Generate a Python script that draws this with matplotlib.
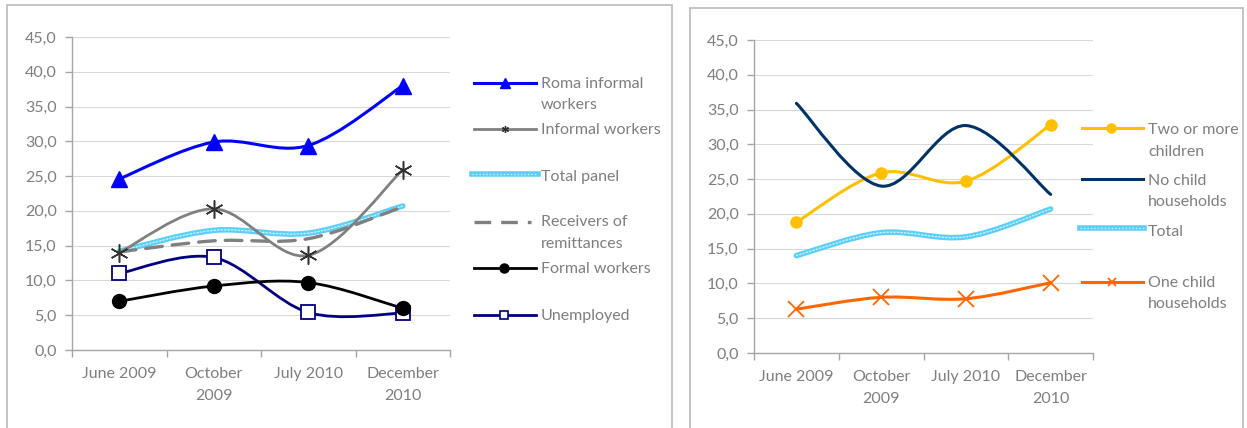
import matplotlib
matplotlib.use("Agg")
import matplotlib.pyplot as plt
from matplotlib.path import Path
from matplotlib.patches import PathPatch, Rectangle
from matplotlib.lines import Line2D
from matplotlib.ticker import FuncFormatter
import numpy as np

plt.rcParams['font.family'] = ['Lato', 'DejaVu Sans']

# ---------------- data ----------------
categories = ["June 2009", "October\n2009", "July 2010", "December\n2010"]

roma_informal = [24.6, 29.9, 29.4, 38.0]
informal_workers = [14.0, 20.3, 13.6, 25.9]
total_panel = [14.2, 17.2, 16.8, 20.7]
receivers = [14.1, 15.7, 16.0, 20.6]
formal_workers = [7.0, 9.2, 9.7, 6.0]
unemployed = [11.0, 13.3, 5.4, 5.3]

two_or_more = [18.8, 25.9, 24.7, 32.8]
no_child = [35.9, 24.0, 32.7, 22.8]
total_right = [14.0, 17.3, 16.7, 20.7]
one_child = [6.3, 8.0, 7.8, 10.1]

yticks = [0, 5, 10, 15, 20, 25, 30, 35, 40, 45]

TEXT = '#7F7F7F'
AXC = '#A6A6A6'
GRID = '#D9D9D9'
W, H = 1247, 428
FS = 11.5

fig = plt.figure(figsize=(W / 100, H / 100), dpi=100)


def fx(x):
    return x / W


def fy(y):
    return 1 - y / H


def smooth_path(ax, ys, **kw):
    """Excel-style smoothed line through the points (Bezier, Catmull-Rom)."""
    xs = list(range(len(ys)))
    pts = np.column_stack([xs, ys]).astype(float)
    n = len(pts)
    verts = [pts[0]]
    codes = [Path.MOVETO]
    for i in range(n - 1):
        p0 = pts[i - 1] if i > 0 else pts[i]
        p1 = pts[i]
        p2 = pts[i + 1]
        p3 = pts[i + 2] if i + 2 < n else pts[i + 1]
        c1 = p1 + (p2 - p0) / 6.0
        c2 = p2 - (p3 - p1) / 6.0
        verts += [c1, c2, p2]
        codes += [Path.CURVE4] * 3
    patch = PathPatch(Path(verts, codes), fill=False, transform=ax.transData,
                      capstyle='round', joinstyle='round', **kw)
    ax.add_patch(patch)
    return patch


def style_axes(ax):
    ax.set_xlim(-0.5, 3.5)
    ax.set_ylim(0, 45)
    ax.set_yticks(yticks)
    ax.yaxis.set_major_formatter(FuncFormatter(lambda v, p: f"{v:.1f}".replace('.', ',')))
    ax.set_xticks([-0.5, 0.5, 1.5, 2.5, 3.5])
    ax.set_xticklabels([])
    ax.set_xticks(range(4), minor=True)
    ax.set_xticklabels(categories, minor=True, fontsize=FS, color=TEXT,
                       linespacing=1.74)
    ax.tick_params(axis='x', which='major', length=5, color=AXC, width=1)
    ax.tick_params(axis='x', which='minor', length=0, pad=12)
    ax.tick_params(axis='y', length=5, color=AXC, width=1, labelsize=FS,
                   labelcolor=TEXT, pad=6)
    for s in ['top', 'right']:
        ax.spines[s].set_visible(False)
    for s in ['left', 'bottom']:
        ax.spines[s].set_color(AXC)
        ax.spines[s].set_linewidth(1)
    ax.grid(axis='y', color=GRID, linewidth=0.8)
    ax.set_axisbelow(True)


def total_style(ax, ys):
    smooth_path(ax, ys, edgecolor='#5CCFF7', linewidth=4.0, zorder=3)
    smooth_path(ax, ys, edgecolor='#C8F0FF', linewidth=1.0, linestyle=(0, (1, 1.5)), zorder=3.1)


# panel borders
fig.add_artist(Rectangle((fx(7), fy(440)), fx(672 - 7), fy(5) - fy(440),
                         transform=fig.transFigure, fill=False,
                         edgecolor='#BFBFBF', linewidth=1.3))
fig.add_artist(Rectangle((fx(690), fy(440)), fx(1243 - 690), fy(8) - fy(440),
                         transform=fig.transFigure, fill=False,
                         edgecolor='#BFBFBF', linewidth=1.3))

# ---------------- left chart ----------------
ax1 = fig.add_axes([fx(72), fy(350), fx(450 - 72), fy(37) - fy(350)])
style_axes(ax1)
x = range(4)

total_style(ax1, total_panel)
smooth_path(ax1, receivers, edgecolor='#808080', linewidth=2.4,
            linestyle=(0, (5, 3)), zorder=3.2)
smooth_path(ax1, informal_workers, edgecolor='#808080', linewidth=2.0, zorder=3.3)
ax1.plot(x, informal_workers, linestyle='none', marker=(6, 2, 0), markersize=13,
         markeredgecolor='#333333', markeredgewidth=1.1, zorder=4)
smooth_path(ax1, roma_informal, edgecolor='#0000FF', linewidth=2.2, zorder=3.4)
ax1.plot(x, roma_informal, linestyle='none', marker='^', markersize=12,
         color='#0000FF', zorder=4)
smooth_path(ax1, unemployed, edgecolor='#000080', linewidth=2.0, zorder=3.5)
ax1.plot(x, unemployed, linestyle='none', marker='s', markersize=10,
         markerfacecolor='white', markeredgecolor='#000080', markeredgewidth=1.3, zorder=4)
smooth_path(ax1, formal_workers, edgecolor='#000000', linewidth=2.0, zorder=3.6)
ax1.plot(x, formal_workers, linestyle='none', marker='o', markersize=10,
         color='#000000', zorder=4.1)

# ---------------- right chart ----------------
ax2 = fig.add_axes([fx(754), fy(353), fx(1093 - 754), fy(40) - fy(353)])
style_axes(ax2)
total_style(ax2, total_right)
smooth_path(ax2, one_child, edgecolor='#FF6600', linewidth=2.2, zorder=3.3)
ax2.plot(x, one_child, linestyle='none', marker='x', markersize=11,
         markeredgecolor='#FF6600', markeredgewidth=1.3, zorder=4)
smooth_path(ax2, two_or_more, edgecolor='#FFC000', linewidth=2.2, zorder=3.4)
ax2.plot(x, two_or_more, linestyle='none', marker='o', markersize=8,
         color='#FFC000', zorder=4)
smooth_path(ax2, no_child, edgecolor='#003366', linewidth=2.2, zorder=3.5)

# ---------------- legends (drawn by hand) ----------------


def leg_line(x0, x1, y, **kw):
    fig.add_artist(Line2D([fx(x0), fx(x1)], [fy(y), fy(y)],
                          transform=fig.transFigure, **kw))


def leg_marker(xm, y, **kw):
    fig.add_artist(Line2D([fx(xm)], [fy(y)], transform=fig.transFigure,
                          linestyle='none', **kw))


def leg_text(xt, y, s):
    fig.text(fx(xt), fy(y), s, fontsize=FS, color=TEXT, ha='left', va='center',
             linespacing=1.66)


# left legend
lx0, lx1, ltx = 474, 536, 541
leg_line(lx0, lx1, 83, color='#0000FF', lw=2.2)
leg_marker(505, 83, marker='^', markersize=7, color='#0000FF')
leg_text(ltx, 94.5, "Roma informal\nworkers")
leg_line(lx0, lx1, 129, color='#808080', lw=2.0)
leg_marker(505, 129, marker=(6, 2, 0), markersize=5, markeredgecolor='#333333',
           markeredgewidth=1.0)
leg_text(ltx, 130, "Informal workers")
leg_line(472, 538, 174, color='#5CCFF7', lw=4.0)
leg_line(472, 538, 174, color='#C8F0FF', lw=1.0, linestyle=(0, (1, 1.5)))
leg_text(ltx, 177, "Total panel")
leg_line(lx0, 531, 222, color='#808080', lw=2.4, linestyle=(0, (5, 3)))
leg_text(ltx, 233, "Receivers of\nremittances")
leg_line(lx0, lx1, 268, color='#000000', lw=2.0)
leg_marker(504, 268, marker='o', markersize=6.5, color='#000000')
leg_text(ltx, 269, "Formal workers")
leg_line(lx0, lx1, 315, color='#000080', lw=2.0)
leg_marker(504, 315, marker='s', markersize=5.5, markerfacecolor='white',
           markeredgecolor='#000080', markeredgewidth=1.2)
leg_text(ltx, 316, "Unemployed")

# right legend
rx0, rx1, rtx = 1082, 1143, 1148
leg_line(rx0, rx1, 128, color='#FFC000', lw=2.2)
leg_marker(1111, 128, marker='o', markersize=6.5, color='#FFC000')
leg_text(rtx, 141, "Two or more\nchildren")
leg_line(rx0, rx1, 179, color='#003366', lw=2.2)
leg_text(rtx, 191.5, "No child\nhouseholds")
leg_line(1080, 1144, 228, color='#5CCFF7', lw=4.0)
leg_line(1080, 1144, 228, color='#C8F0FF', lw=1.0, linestyle=(0, (1, 1.5)))
leg_text(rtx, 232, "Total")
leg_line(rx0, rx1, 282, color='#FF6600', lw=2.2)
leg_marker(1112, 282, marker='x', markersize=6, markeredgecolor='#FF6600',
           markeredgewidth=1.3)
leg_text(rtx, 293.5, "One child\nhouseholds")

fig.savefig("out.png", dpi=100)
